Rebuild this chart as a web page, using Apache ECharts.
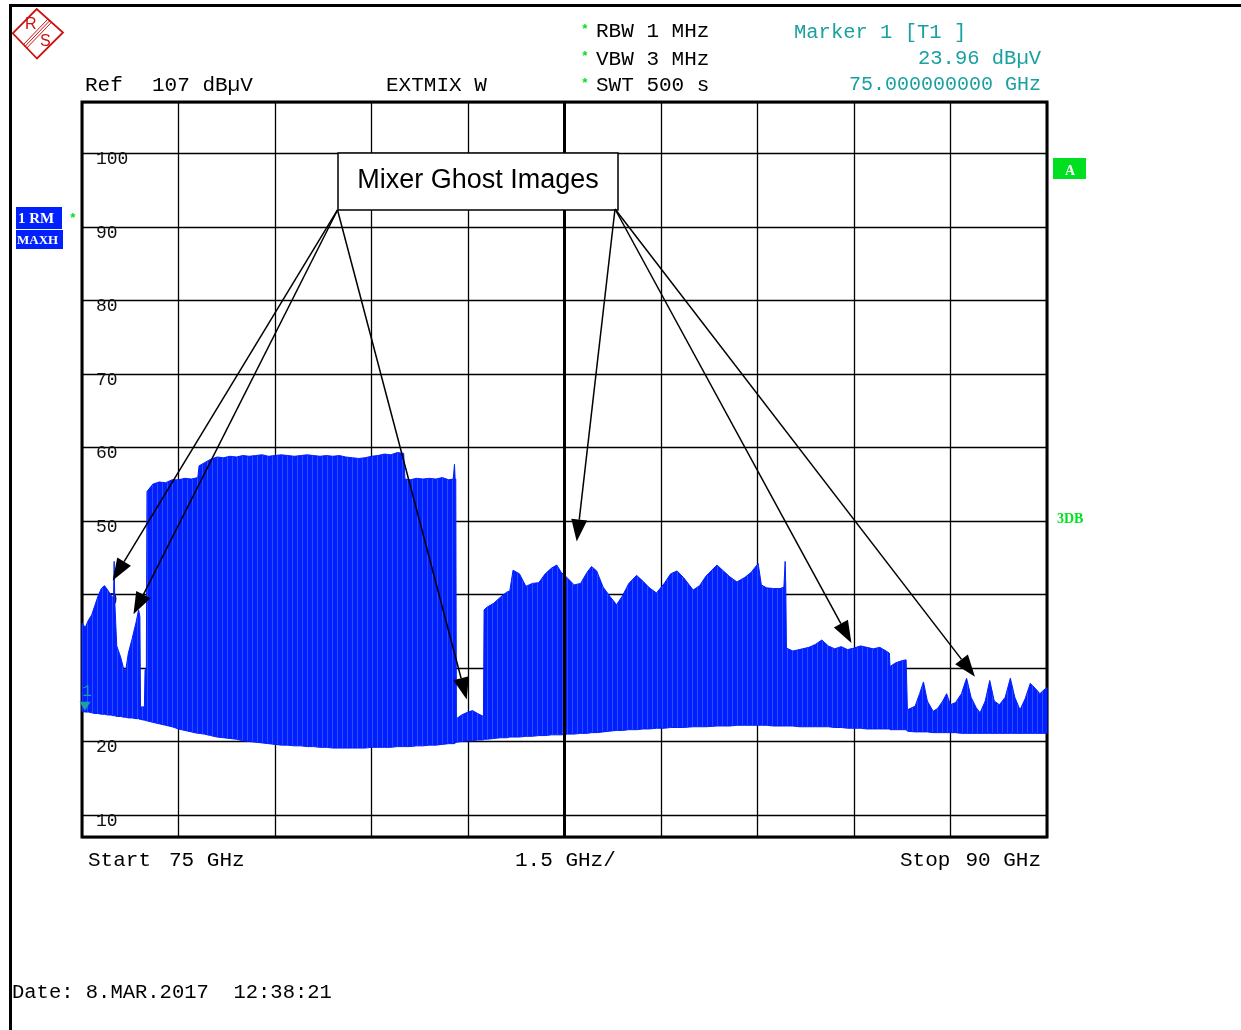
<!DOCTYPE html>
<html><head><meta charset="utf-8">
<script src="https://cdn.jsdelivr.net/npm/echarts@6/dist/echarts.min.js"></script>
<style>html,body{margin:0;padding:0;background:#fff}#c{width:1241px;height:1030px}</style>
</head><body><div id="c"></div>
<script>
// Frequency (GHz) of each sample of the max-hold trace
const freq = [
  75.00,75.05,75.10,75.15,75.20,75.25,75.30,75.35,75.40,75.45,75.49,75.50,75.51,75.54,75.60,75.65,75.68,75.72,75.78,75.84,75.88,75.90,
  75.91,75.97,75.98,76.00,76.01,76.10,76.20,76.30,76.40,76.50,76.60,76.70,76.80,76.82,76.90,77.00,77.10,77.20,77.30,77.40,77.50,77.60,
  77.70,77.80,77.90,78.00,78.10,78.20,78.30,78.40,78.50,78.60,78.70,78.80,78.90,79.00,79.10,79.20,79.30,79.40,79.50,79.60,79.70,79.80,
  79.90,80.00,80.02,80.10,80.20,80.30,80.40,80.50,80.60,80.70,80.77,80.79,80.80,80.81,80.82,80.90,81.00,81.07,81.15,81.24,81.25,81.30,
  81.40,81.50,81.60,81.65,81.70,81.80,81.90,82.00,82.10,82.20,82.30,82.38,82.45,82.55,82.65,82.75,82.85,82.92,83.00,83.10,83.20,83.31,
  83.40,83.50,83.62,83.72,83.82,83.93,84.05,84.15,84.25,84.35,84.50,84.60,84.70,84.87,84.97,85.07,85.18,85.30,85.40,85.51,85.56,85.64,
  85.75,85.85,85.91,85.93,85.94,85.95,86.05,86.15,86.30,86.40,86.50,86.60,86.70,86.80,86.90,87.00,87.10,87.20,87.30,87.40,87.50,87.55,
  87.56,87.65,87.75,87.81,87.83,87.95,88.02,88.08,88.14,88.23,88.30,88.38,88.44,88.50,88.58,88.67,88.75,88.82,88.90,88.96,89.04,89.11,
  89.18,89.26,89.35,89.43,89.50,89.58,89.66,89.74,89.82,89.89,89.95,90.00
];
// Peak (max-hold top) level, dBuV
const peak = [
  36.1,35.5,36.5,37.2,38.5,39.8,40.8,41.2,40.6,39.9,39.5,44.5,39.0,33.0,31.5,29.8,29.7,32.0,34.0,36.2,37.9,37.0,
  24.7,24.7,29.7,30.0,54.0,55.0,55.3,55.2,55.6,55.6,55.8,55.7,55.9,57.5,57.9,58.4,58.7,58.6,58.8,58.7,58.9,58.8,
  58.9,59.0,58.8,58.9,59.0,58.9,58.8,58.9,59.0,58.9,58.8,58.9,58.8,58.9,58.7,58.6,58.5,58.6,58.8,58.9,59.1,59.0,
  59.3,59.2,55.7,55.6,55.8,55.7,55.8,55.7,55.9,55.6,55.7,57.7,55.7,55.7,23.1,23.6,24.0,24.2,23.8,23.4,37.9,38.3,
  38.8,39.6,40.3,40.5,43.3,42.8,41.1,41.5,41.6,42.8,43.6,44.0,43.0,42.2,41.3,41.5,43.0,43.8,43.2,41.0,39.8,38.6,
  39.8,41.5,42.6,41.8,40.9,40.2,41.5,42.8,43.2,42.3,40.6,41.2,42.5,44.0,43.2,42.4,41.7,42.3,43.0,44.2,41.3,40.9,
  40.8,40.8,41.0,44.5,41.0,32.7,32.3,32.5,32.8,33.2,33.8,33.0,32.6,32.9,32.5,32.7,33.0,32.8,32.6,32.8,32.3,32.0,
  30.2,30.7,31.0,31.1,24.3,24.8,26.5,28.1,25.5,24.1,24.5,25.5,26.5,25.0,25.3,26.5,28.6,26.0,24.6,23.9,25.5,28.3,
  25.5,25.0,26.0,28.6,26.0,24.3,25.8,27.9,27.2,26.5,27.0,27.3
];
// Floor (lowest level of the dense trace), dBuV
const floorLvl = [
  24.1,24.0,24.0,23.9,23.8,23.8,23.7,23.7,23.6,23.6,23.5,23.5,23.5,23.4,23.4,23.3,23.3,23.2,23.2,23.1,23.1,23.0,
  23.0,22.9,22.9,22.8,22.8,22.6,22.4,22.2,22.0,21.7,21.5,21.3,21.1,21.1,21.0,20.8,20.6,20.5,20.4,20.3,20.1,20.0,
  19.9,19.8,19.7,19.6,19.5,19.5,19.4,19.4,19.3,19.3,19.2,19.2,19.1,19.1,19.1,19.1,19.1,19.1,19.2,19.2,19.2,19.2,
  19.3,19.3,19.3,19.3,19.4,19.4,19.5,19.5,19.6,19.7,19.7,19.7,19.8,19.8,19.9,20.0,20.1,20.1,20.2,20.2,20.3,20.3,
  20.4,20.5,20.5,20.6,20.6,20.6,20.7,20.7,20.8,20.8,20.9,20.9,20.9,21.0,21.0,21.1,21.1,21.2,21.2,21.3,21.4,21.5,
  21.5,21.6,21.6,21.7,21.7,21.8,21.8,21.9,21.9,21.9,22.0,22.0,22.0,22.1,22.1,22.1,22.2,22.2,22.2,22.2,22.2,22.2,
  22.1,22.1,22.1,22.1,22.1,22.1,22.1,22.0,22.0,22.0,22.0,22.0,21.9,21.9,21.8,21.8,21.8,21.7,21.7,21.7,21.7,21.7,
  21.6,21.6,21.6,21.6,21.4,21.3,21.3,21.3,21.3,21.2,21.2,21.2,21.2,21.2,21.2,21.1,21.1,21.1,21.1,21.1,21.1,21.1,
  21.1,21.1,21.1,21.1,21.1,21.1,21.1,21.1,21.1,21.1,21.1,21.1
];
const yTickLabels = [10,20,30,40,50,60,70,80,90,100];
// Annotation arrows: [fromFreq, fromLevel, toFreq, toLevel]
const arrows = [
  [78.972, 92.31, 75.477, 41.9],
  [78.972, 92.31, 75.800, 37.3],
  [78.972, 92.31, 80.980, 25.7],
  [83.285, 92.44, 82.690, 47.2],
  [83.285, 92.44, 86.960, 33.4],
  [83.285, 92.44, 88.880, 28.8]
];
const marker1 = [75.0, 23.96];

const MONO = '"Liberation Mono", "DejaVu Sans Mono", monospace';
const TEAL = '#1aa0a0';
const BLUE = '#0020ff';
const GREEN = '#00e020';

// subtle vertical-line texture of the dense max-hold trace
const pat = document.createElement('canvas');
pat.width = 5; pat.height = 4;
const pctx = pat.getContext('2d');
pctx.fillStyle = BLUE; pctx.fillRect(0, 0, 5, 4);
pctx.fillStyle = '#2f4cff'; pctx.fillRect(2, 0, 1, 4);

const chart = echarts.init(document.getElementById('c'), null, {renderer: 'canvas'});
const data = freq.map((f, i) => [f, peak[i], floorLvl[i]]);

function txt(x, y, s, opt) {
  return Object.assign({type: 'text', x: x, y: y, z: 100,
    style: Object.assign({text: s, fill: '#000', font: '21px ' + MONO, textVerticalAlign: 'middle'}, opt || {})});
}

const graphics = [
  {type: 'rect', z: 100, shape: {x: 9, y: 4, width: 3, height: 1026}, style: {fill: '#000'}},
  {type: 'rect', z: 100, shape: {x: 9, y: 4, width: 1232, height: 3}, style: {fill: '#000'}},
  // R&S logo
  {type: 'polygon', z: 100, shape: {points: [[12.7, 33.3], [36.7, 9], [63, 32.5], [37, 58.5]]}, style: {fill: 'none', stroke: '#cc1111', lineWidth: 1.8}},
  {type: 'line', z: 100, shape: {x1: 48.0, y1: 19.0, x2: 23.0, y2: 45.0}, style: {stroke: '#cc1111', lineWidth: 1}},
  {type: 'line', z: 100, shape: {x1: 49.7, y1: 20.7, x2: 24.7, y2: 46.7}, style: {stroke: '#cc1111', lineWidth: 1}},
  {type: 'line', z: 100, shape: {x1: 51.4, y1: 22.4, x2: 26.4, y2: 48.4}, style: {stroke: '#cc1111', lineWidth: 1}},
  txt(25, 25, 'R', {fill: '#cc1111', font: '16px "Liberation Sans", sans-serif'}),
  txt(40, 42, 'S', {fill: '#cc1111', font: '16px "Liberation Sans", sans-serif'}),
  // header
  txt(85, 85, 'Ref'),
  txt(152, 85, '107 dBµV'),
  txt(386, 85, 'EXTMIX W'),
  txt(581, 30, '*', {fill: GREEN, font: 'bold 13px ' + MONO}),
  txt(581, 57, '*', {fill: GREEN, font: 'bold 13px ' + MONO}),
  txt(581, 84, '*', {fill: GREEN, font: 'bold 13px ' + MONO}),
  txt(596, 31, 'RBW 1 MHz'),
  txt(596, 59, 'VBW 3 MHz'),
  txt(596, 85, 'SWT 500 s'),
  txt(794, 33, 'Marker 1 [T1 ]', {fill: TEAL, font: '20.5px ' + MONO}),
  txt(1041, 59, '23.96 dBµV', {fill: TEAL, textAlign: 'right', font: '20.5px ' + MONO}),
  txt(1041, 85, '75.000000000 GHz', {fill: TEAL, textAlign: 'right', font: '20px ' + MONO}),
  // footer
  txt(88, 860, 'Start'),
  txt(169, 860, '75 GHz'),
  txt(515, 860, '1.5 GHz/'),
  txt(900, 860, 'Stop'),
  txt(1041, 860, '90 GHz', {textAlign: 'right'}),
  txt(12, 993, 'Date: 8.MAR.2017  12:38:21', {font: '20.5px ' + MONO}),
  // left trace boxes
  {type: 'rect', z: 100, shape: {x: 16, y: 207, width: 46, height: 22}, style: {fill: BLUE}},
  {type: 'rect', z: 100, shape: {x: 16, y: 230, width: 47, height: 19}, style: {fill: BLUE}},
  txt(18, 219, '1 RM', {fill: '#fff', font: 'bold 15px "Liberation Serif", serif'}),
  txt(17, 241, 'MAXH', {fill: '#fff', font: 'bold 13px "Liberation Serif", serif'}),
  txt(69, 219, '*', {fill: GREEN, font: 'bold 13px ' + MONO}),
  // right side
  {type: 'rect', z: 100, shape: {x: 1053, y: 158, width: 33, height: 21}, style: {fill: GREEN}},
  txt(1070, 171, 'A', {fill: '#fff', font: 'bold 14px "Liberation Serif", serif', textAlign: 'center'}),
  txt(1057, 519, '3DB', {fill: GREEN, font: 'bold 14px "Liberation Serif", serif'}),
  // annotation box
  {type: 'rect', z: 100, shape: {x: 338, y: 153, width: 280, height: 57}, style: {fill: '#fff', stroke: '#000', lineWidth: 1.5}},
  txt(478, 181, 'Mixer Ghost Images', {font: '27px "Liberation Sans", Arial, sans-serif', textAlign: 'center'})
];

const option = {
  animation: false,
  backgroundColor: '#fff',
  grid: {left: 82, top: 102, width: 965, height: 735, show: true, borderColor: '#000', borderWidth: 3, backgroundColor: 'transparent'},
  xAxis: {type: 'value', min: 75, max: 90, interval: 1.5,
    axisLine: {show: false}, axisTick: {show: false}, axisLabel: {show: false},
    splitLine: {show: true, lineStyle: {color: '#000', width: 1.3}}},
  yAxis: {type: 'value', min: 7, max: 107, splitNumber: 10,
    axisLine: {show: false}, axisTick: {show: false},
    axisLabel: {inside: true, margin: 14, color: '#111', fontFamily: MONO, fontSize: 18, verticalAlign: 'top', lineHeight: 12,
      formatter: v => yTickLabels.indexOf(Math.round(v * 1000) / 1000) >= 0 ? String(v) : ''},
    splitLine: {show: true, lineStyle: {color: '#000', width: 1.3}}},
  graphic: graphics,
  series: [{
    type: 'custom',
    data: data,
    encode: {x: 0, y: [1, 2]},
    renderItem: function (params, api) {
      if (params.dataIndex !== 0) return null;
      const top = [], bot = [];
      for (let i = 0; i < data.length; i++) {
        top.push(api.coord([data[i][0], data[i][1]]));
        bot.push(api.coord([data[i][0], data[i][2]]));
      }
      const pts = top.concat(bot.reverse());
      return {type: 'polygon', shape: {points: pts},
        style: {fill: {image: pat, repeat: 'repeat'}, stroke: BLUE, lineWidth: 1}};
    },
    markLine: {
      silent: true, symbol: 'none', label: {show: false},
      lineStyle: {color: '#000', width: 3, type: 'solid'},
      data: [{xAxis: 82.5}]
    },
    markPoint: {
      silent: true,
      data: [{coord: marker1, symbol: 'triangle', symbolRotate: 180, symbolSize: [11, 9], symbolOffset: [3, -6],
        itemStyle: {color: TEAL},
        label: {show: true, formatter: '1', position: 'top', distance: 2, offset: [2, 0], color: TEAL, fontFamily: MONO, fontSize: 16}}]
    }
  }]
};
chart.setOption(option);

// annotation arrows, positioned from data coordinates
const arrowG = [];
arrows.forEach(a => {
  const p0 = chart.convertToPixel({gridIndex: 0}, [a[0], a[1]]);
  const p1 = chart.convertToPixel({gridIndex: 0}, [a[2], a[3]]);
  const dx = p1[0] - p0[0], dy = p1[1] - p0[1];
  const len = Math.sqrt(dx * dx + dy * dy);
  const ux = dx / len, uy = dy / len;
  const L = 22, W = 8;
  const bx = p1[0] - ux * L, by = p1[1] - uy * L;
  arrowG.push({type: 'line', z: 101, shape: {x1: p0[0], y1: p0[1], x2: bx, y2: by}, style: {stroke: '#000', lineWidth: 1.5}});
  arrowG.push({type: 'polygon', z: 101, shape: {points: [[p1[0], p1[1]], [bx - uy * W, by + ux * W], [bx + uy * W, by - ux * W]]}, style: {fill: '#000'}});
});
chart.setOption({graphic: graphics.concat(arrowG)});
</script>
</body></html>
